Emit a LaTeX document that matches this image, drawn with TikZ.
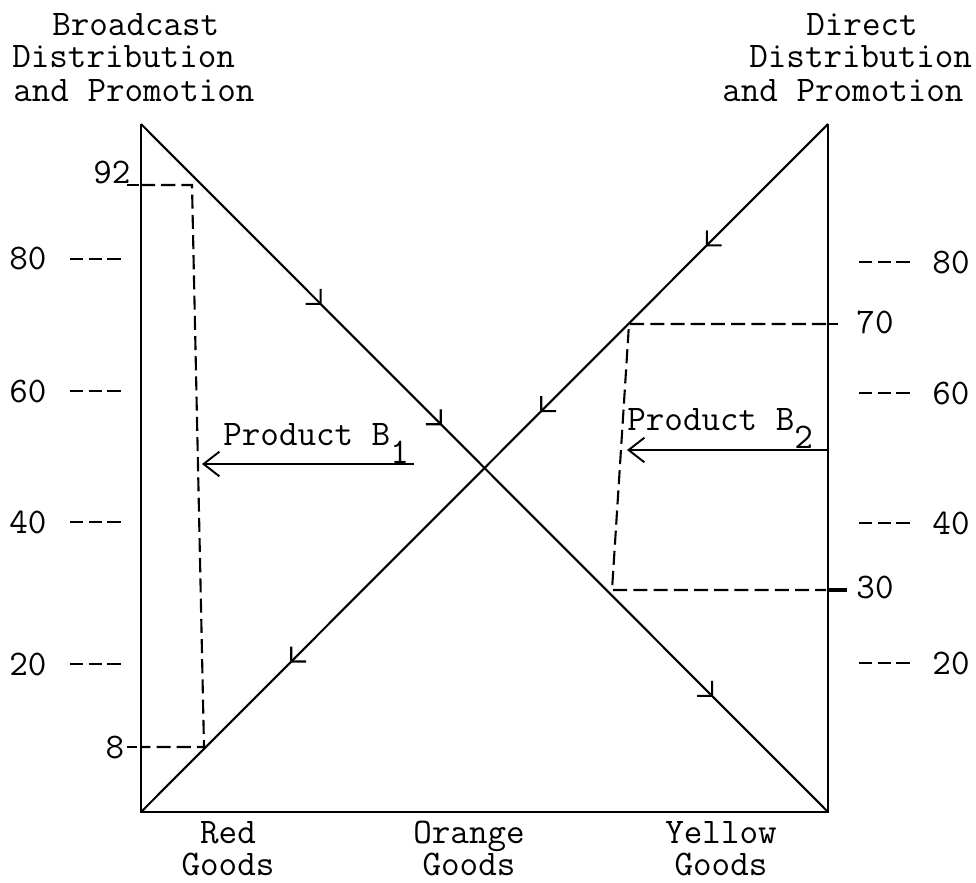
\documentclass[tikz,border=0pt]{standalone}
\usetikzlibrary{arrows.meta,decorations.markings}
\begin{document}
\begin{tikzpicture}[x=0.02cm,y=-0.02cm,
  font=\ttfamily\fontsize{20.5}{20.5}\selectfont,
  frame/.style={line width=1.5pt},
  diag/.style={line width=1.2pt},
  guide/.style={line width=1.2pt, dash pattern=on 8pt off 3.5pt},
  tickmark/.style={line width=1.2pt, dash pattern=on 7.6pt off 3pt},
  lbl/.style={inner sep=0pt},
  goods/.style={inner sep=0pt, align=center, anchor=base,
     font=\ttfamily\fontsize{20.5}{18.1}\selectfont},
  prodarrow/.style={line width=1.1pt, -{Straight Barb[length=9pt,width=14pt]}},
  midtip/.style={postaction={decorate}},
]
\useasboundingbox (0,0) rectangle (976,882);
% frame
\coordinate (tl) at (141,124);
\coordinate (tr) at (828,124);
\coordinate (bl) at (141,812);
\coordinate (br) at (828,812);
\draw[frame] (tl) -- (bl) -- (br) -- (tr);
% diagonals with mid arrows
\draw[diag, midtip, decoration={markings,
   mark=at position 0.263 with {\arrow{Straight Barb[length=6pt,width=12pt]}},
   mark=at position 0.438 with {\arrow{Straight Barb[length=6pt,width=12pt]}},
   mark=at position 0.833 with {\arrow{Straight Barb[length=6pt,width=12pt]}}}]
   (tl) -- (br);
\draw[diag, midtip, decoration={markings,
   mark=at position 0.178 with {\arrow{Straight Barb[length=6pt,width=12pt]}},
   mark=at position 0.419 with {\arrow{Straight Barb[length=6pt,width=12pt]}},
   mark=at position 0.783 with {\arrow{Straight Barb[length=6pt,width=12pt]}}}]
   (tr) -- (bl);
% headers
\node[lbl, anchor=base west] (hl1) at (52,36) {Broadcast};
\node[lbl, anchor=base west] (hl2) at (12,68) {Distribution};
\node[lbl, anchor=base west] (hl3) at (13,101) {and Promotion};
\node[lbl, anchor=base west] (hr1) at (806,36) {Direct};
\node[lbl, anchor=base west] (hr2) at (749,68) {Distribution};
\node[lbl, anchor=base west] (hr3) at (722,101) {and Promotion};
% left scale
\node[lbl] (l80) at (28,258) {80};
\node[lbl] (l60) at (28,391) {60};
\node[lbl] (l40) at (28,522) {40};
\node[lbl] (l20) at (28,664) {20};
\draw[tickmark] (70,259) -- (121,259);
\draw[tickmark] (70,391) -- (121,391);
\draw[tickmark] (70,522) -- (121,522);
\draw[tickmark] (70,664) -- (121,664);
% right scale
\node[lbl] (r80) at (951,262) {80};
\node[lbl] (r60) at (951,393) {60};
\node[lbl] (r40) at (951,523) {40};
\node[lbl] (r20) at (951,663) {20};
\node[lbl] (r70) at (875,322) {70};
\node[lbl] (r30) at (875,587) {30};
\draw[tickmark] (859,262) -- (913,262);
\draw[tickmark] (859,393) -- (913,393);
\draw[tickmark] (859,523) -- (913,523);
\draw[tickmark] (859,663) -- (913,663);
% product B1 guide
\node[lbl] (n92) at (112,172) {92};
\node[lbl] (n8) at (115,747) {8};
\coordinate (b1a) at (141,185);
\coordinate (b1b) at (192,185);
\coordinate (b1c) at (204,747);
\coordinate (b1d) at (141,747);
\draw[guide] (b1a) -- (b1b) -- (b1c) -- (b1d);
\draw[line width=1.2pt] (127,185) -- (139,185);
\draw[line width=1.2pt] (127,747) -- (137,747);
% product B2 guide
\coordinate (b2a) at (826,324);
\coordinate (b2b) at (629,324);
\coordinate (b2c) at (612,590);
\coordinate (b2d) at (826,590);
\draw[guide] (b2a) -- (b2b) -- (b2c) -- (b2d);
\draw[line width=1.5pt] (828,324) -- (838,324);
\draw[line width=2.2pt] (828,590) -- (847,590);
% product labels and arrows
\node[lbl, anchor=base west] (pb1) at (223,445) {Product B\raisebox{-0.5em}{1}};
\node[lbl, anchor=base west] (pb2) at (627,430) {Product B\raisebox{-0.5em}{2}};
\coordinate (p1s) at (414,464);
\coordinate (p1e) at (202,464);
\coordinate (p2s) at (828,450);
\coordinate (p2e) at (627,450);
\draw[prodarrow] (p1s) -- (p1e);
\draw[prodarrow] (p2s) -- (p2e);
% bottom labels
\node[goods] (red) at (228,875) {Red\\Goods};
\node[goods] (orange) at (469,875) {Orange\\Goods};
\node[goods] (yellow) at (721,875) {Yellow\\Goods};
\end{tikzpicture}
\end{document}
